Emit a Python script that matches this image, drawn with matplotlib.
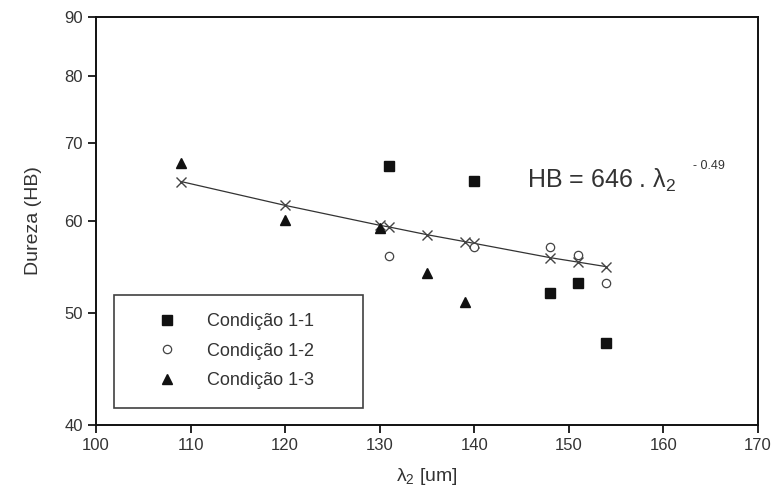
import matplotlib
matplotlib.use("Agg")
import matplotlib.pyplot as plt
from matplotlib.ticker import FixedLocator, FixedFormatter, NullLocator

plt.rcParams['font.family'] = ['Liberation Sans', 'DejaVu Sans']
plt.rcParams['mathtext.fontset'] = 'custom'
plt.rcParams['mathtext.rm'] = 'Liberation Sans'
plt.rcParams['mathtext.it'] = 'Liberation Sans'

# Condicao 1-1 (filled squares)
x_c11 = [131, 140, 148, 151, 154]
hb_c11 = [67.0, 65.0, 52.0, 53.0, 47.1]

# Condicao 1-2 (open circles)
x_c12 = [131, 140, 148, 151, 154]
hb_c12 = [56.0, 57.0, 57.0, 56.1, 53.0]

# Condicao 1-3 (filled triangles)
x_c13 = [109, 120, 130, 135, 139]
hb_c13 = [67.3, 60.1, 59.2, 54.1, 51.1]

# fitted curve points (x markers)
x_fit = [109, 120, 130, 131, 135, 139, 140, 148, 151, 154]
hb_fit = [64.9, 61.9, 59.5, 59.3, 58.4, 57.6, 57.4, 55.8, 55.3, 54.8]

x_ticks = [100, 110, 120, 130, 140, 150, 160, 170]
y_ticks = [40, 50, 60, 70, 80, 90]

txt = '#333333'

fig = plt.figure(figsize=(7.74, 4.99), dpi=100)
ax = fig.add_axes([0.124, 0.148, 0.855, 0.818])

ax.plot(x_fit, hb_fit, color='#333333', lw=0.9, marker='x', ms=7,
        mew=1.0, mec='#444444', zorder=2)
ax.plot(x_c11, hb_c11, 's', color='#111111', ms=6.5, ls='none',
        label='Condição 1-1', zorder=3)
ax.plot(x_c12, hb_c12, 'o', mfc='white', mec='#444444', mew=0.9, ms=6,
        ls='none', label='Condição 1-2', zorder=3)
ax.plot(x_c13, hb_c13, '^', color='#111111', ms=7.5, ls='none',
        label='Condição 1-3', zorder=3)

ax.set_yscale('log')
ax.set_xlim(100, 170)
ax.set_ylim(40, 90)
ax.xaxis.set_major_locator(FixedLocator(x_ticks))
ax.yaxis.set_major_locator(FixedLocator(y_ticks))
ax.yaxis.set_major_formatter(FixedFormatter([str(v) for v in y_ticks]))
ax.yaxis.set_minor_locator(NullLocator())

ax.tick_params(direction='out', length=6, width=1.2, labelsize=12,
               labelcolor=txt, top=False, right=False)
for s in ax.spines.values():
    s.set_linewidth(1.4)
    s.set_color('#111111')

ax.set_xlabel(r'λ$\mathregular{_2}$ [um]', fontsize=14, color=txt, labelpad=9)
ax.set_ylabel('Dureza (HB)', fontsize=14, color=txt, labelpad=16)

ax.text(145.6, 65.1, r'HB = 646 . λ$\mathregular{_2}$', fontsize=18, color=txt,
        ha='left', va='center')
ax.text(163.1, 66.9, '- 0.49', fontsize=9, color=txt, ha='left',
        va='center')

leg = ax.legend(loc='lower left', bbox_to_anchor=(0.027, 0.042, 0.376, 0.277),
                mode='expand', fontsize=13, frameon=True, fancybox=False,
                edgecolor='#111111', borderpad=1.05, labelspacing=0.68,
                handletextpad=0.3, borderaxespad=0, handlelength=3.8)
leg.get_frame().set_linewidth(1.2)
for t in leg.get_texts():
    t.set_color(txt)

fig.savefig('out.png', dpi=100)
